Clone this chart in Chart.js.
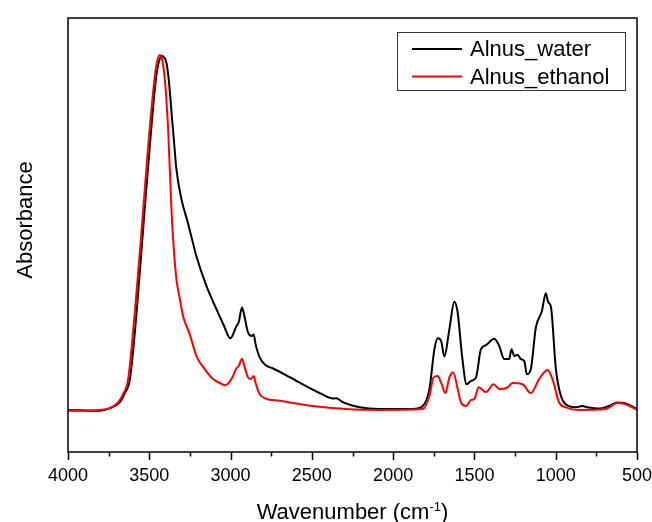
<!DOCTYPE html>
<html>
<head>
<meta charset="utf-8">
<script src="https://cdn.jsdelivr.net/npm/chart.js@4.4.0/dist/chart.umd.min.js"></script>
<style>
  body { margin: 0; background: #fff; }
</style>
</head>
<body>
<canvas id="myChart" width="652" height="522"></canvas>
<script>
// spectra: wavenumber (cm-1) and absorbance (a.u.)
const waterWavenumber = [4000, 3804, 3742, 3681, 3650, 3619, 3578, 3538, 3497, 3460, 3441, 3423, 3411, 3394, 3380,
  3363, 3349, 3333, 3302, 3263, 3210, 3148, 3087, 3042, 3001, 2987, 2964, 2950, 2930, 2919, 2893, 2870, 2858, 2846,
  2821, 2784, 2741, 2668, 2596, 2453, 2367, 2350, 2311, 2207, 2084, 1880, 1818, 1777, 1746, 1726, 1705, 1685, 1654,
  1624, 1603, 1576, 1548, 1521, 1490, 1460, 1429, 1378, 1347, 1317, 1286, 1272, 1255, 1235, 1214, 1194, 1177, 1153,
  1122, 1085, 1061, 1046, 1030, 999, 968, 938, 876, 836, 805, 733, 672, 621, 580, 500];
const waterAbsorbance = [0.097, 0.095, 0.101, 0.115, 0.136, 0.168, 0.322, 0.513, 0.704, 0.857, 0.899, 0.913, 0.910,
  0.896, 0.857, 0.782, 0.720, 0.651, 0.582, 0.529, 0.451, 0.382, 0.329, 0.292, 0.262, 0.269, 0.290, 0.299, 0.333,
  0.320, 0.276, 0.267, 0.271, 0.248, 0.218, 0.200, 0.193, 0.179, 0.164, 0.136, 0.123, 0.124, 0.115, 0.103, 0.099,
  0.099, 0.106, 0.145, 0.237, 0.262, 0.256, 0.220, 0.283, 0.346, 0.321, 0.221, 0.156, 0.164, 0.172, 0.237, 0.246,
  0.261, 0.244, 0.214, 0.214, 0.237, 0.221, 0.224, 0.214, 0.210, 0.179, 0.191, 0.287, 0.325, 0.366, 0.345, 0.336,
  0.191, 0.129, 0.110, 0.103, 0.106, 0.103, 0.100, 0.106, 0.114, 0.113, 0.099];

const ethanolWavenumber = [4000, 3804, 3742, 3691, 3662, 3630, 3589, 3547, 3507, 3472, 3454, 3435, 3423, 3404, 3384,
  3363, 3349, 3333, 3312, 3292, 3251, 3210, 3159, 3108, 3067, 3036, 3011, 2985, 2964, 2950, 2930, 2913, 2893, 2876,
  2858, 2846, 2821, 2784, 2698, 2496, 2289, 2084, 1818, 1777, 1751, 1726, 1705, 1679, 1654, 1630, 1603, 1583, 1552,
  1521, 1501, 1474, 1429, 1382, 1347, 1296, 1266, 1204, 1153, 1102, 1051, 1020, 979, 938, 856, 692, 621, 580, 500];
const ethanolAbsorbance = [0.095, 0.097, 0.101, 0.115, 0.133, 0.168, 0.322, 0.513, 0.704, 0.846, 0.897, 0.915, 0.908,
  0.857, 0.743, 0.552, 0.467, 0.398, 0.352, 0.313, 0.271, 0.221, 0.191, 0.168, 0.159, 0.154, 0.159, 0.175, 0.193,
  0.198, 0.215, 0.195, 0.172, 0.168, 0.175, 0.159, 0.133, 0.123, 0.118, 0.106, 0.099, 0.097, 0.099, 0.129, 0.172,
  0.175, 0.160, 0.136, 0.172, 0.183, 0.145, 0.114, 0.106, 0.120, 0.122, 0.149, 0.138, 0.156, 0.145, 0.149, 0.159,
  0.156, 0.136, 0.168, 0.189, 0.168, 0.114, 0.103, 0.097, 0.099, 0.113, 0.111, 0.097];

const seriesNames = ['Alnus_water', 'Alnus_ethanol'];
const seriesColors = ['#000000', '#ff0000'];
const xTickValues = [4000, 3500, 3000, 2500, 2000, 1500, 1000, 500];
const xMinorStep = 250;

const FONT = "'Liberation Sans', Arial, sans-serif";

function toPoints(xs, ys) {
  return xs.map((x, i) => ({ x: x, y: ys[i] }));
}

// frame, minor/major ticks, legend box and axis titles
const decorPlugin = {
  id: 'decor',
  afterDraw(chart) {
    const ctx = chart.ctx;
    const a = chart.chartArea;
    const x = chart.scales.x;
    ctx.save();
    ctx.strokeStyle = '#000';
    ctx.lineWidth = 1.5;
    ctx.strokeRect(a.left, a.top, a.right - a.left, a.bottom - a.top);

    // tick marks below the axis
    for (let v = x.min; v <= x.max; v += xMinorStep) {
      const px = Math.round(x.getPixelForValue(v)) + 0.5;
      const len = xTickValues.includes(v) ? 8 : 4.5;
      ctx.beginPath();
      ctx.moveTo(px, a.bottom);
      ctx.lineTo(px, a.bottom + len);
      ctx.stroke();
    }

    // legend
    const boxR = a.right - 12, boxT = a.top + 14, boxW = 228, boxH = 58;
    const boxL = boxR - boxW;
    ctx.lineWidth = 1;
    ctx.strokeStyle = '#333';
    ctx.strokeRect(boxL + 0.5, boxT + 0.5, boxW, boxH);
    ctx.font = '22px ' + FONT;
    ctx.textBaseline = 'middle';
    ctx.textAlign = 'left';
    chart.data.datasets.forEach((ds, i) => {
      const y = boxT + 17 + i * 27.5;
      ctx.strokeStyle = ds.borderColor;
      ctx.lineWidth = 2;
      ctx.beginPath();
      ctx.moveTo(boxL + 15, y);
      ctx.lineTo(boxL + 65, y);
      ctx.stroke();
      ctx.fillStyle = '#000';
      ctx.fillText(ds.label, boxL + 73, y + 1);
    });

    // x title with superscript
    ctx.fillStyle = '#000';
    ctx.textBaseline = 'alphabetic';
    const t1 = 'Wavenumber (cm', t2 = '-1', t3 = ')';
    ctx.font = '22px ' + FONT;
    const w1 = ctx.measureText(t1).width, w3 = ctx.measureText(t3).width;
    ctx.font = '13px ' + FONT;
    const w2 = ctx.measureText(t2).width;
    let sx = (a.left + a.right) / 2 - (w1 + w2 + w3) / 2;
    const by = 518.5;
    ctx.font = '22px ' + FONT;
    ctx.fillText(t1, sx, by);
    ctx.font = '13px ' + FONT;
    ctx.fillText(t2, sx + w1, by - 8);
    ctx.font = '22px ' + FONT;
    ctx.fillText(t3, sx + w1 + w2, by);

    // y title
    ctx.translate(31.5, 220);
    ctx.rotate(-Math.PI / 2);
    ctx.textAlign = 'center';
    ctx.fillText('Absorbance', 0, 0);
    ctx.restore();
  }
};

const ctx = document.getElementById('myChart').getContext('2d');
const myChart = new Chart(ctx, {
  type: 'line',
  data: {
    datasets: [{
      label: seriesNames[0],
      data: toPoints(waterWavenumber, waterAbsorbance),
      borderColor: seriesColors[0],
      borderWidth: 2,
      pointRadius: 0,
      cubicInterpolationMode: 'monotone',
      order: 1
    }, {
      label: seriesNames[1],
      data: toPoints(ethanolWavenumber, ethanolAbsorbance),
      borderColor: seriesColors[1],
      borderWidth: 2,
      pointRadius: 0,
      cubicInterpolationMode: 'monotone',
      order: 0
    }]
  },
  options: {
    responsive: false,
    animation: false,
    layout: { padding: { top: 18, right: 15, left: 0, bottom: 0 } },
    plugins: { legend: { display: false }, tooltip: { enabled: false } },
    scales: {
      x: {
        type: 'linear',
        reverse: true,
        min: 500,
        max: 4000,
        afterBuildTicks: (scale) => { scale.ticks = xTickValues.map(v => ({ value: v })); },
        afterFit: (scale) => {
          scale.height = 70;
          scale.paddingLeft = 0;
          scale.paddingRight = 0;
        },
        grid: { display: false, drawTicks: false },
        border: { display: false },
        ticks: {
          color: '#000',
          padding: 13,
          maxRotation: 0,
          autoSkip: false,
          font: { family: FONT, size: 18 },
          callback: (v) => String(v)
        }
      },
      y: {
        min: 0,
        max: 1,
        afterFit: (scale) => { scale.width = 68; },
        grid: { display: false, drawTicks: false },
        border: { display: false },
        ticks: { display: false }
      }
    }
  },
  plugins: [decorPlugin]
});
</script>
</body>
</html>
